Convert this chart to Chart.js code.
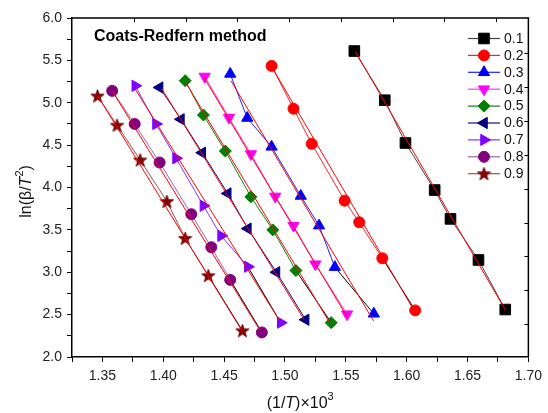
<!DOCTYPE html>
<html><head><meta charset="utf-8">
<script src="https://cdn.jsdelivr.net/npm/chart.js@4"></script>
<style>html,body{margin:0;padding:0;background:#fff}</style>
</head><body>
<canvas id="c" width="548" height="413"></canvas>
<script>
// ---- data: x = (1/T)x10^3, y = ln(beta/T^2) ----
const seriesNames = ['0.1','0.2','0.3','0.4','0.5','0.6','0.7','0.8','0.9'];
const x01 = [1.557,1.582,1.599,1.623,1.636,1.659,1.681];
const y01 = [5.61,5.03,4.525,3.97,3.63,3.145,2.56];
const x02 = [1.489,1.507,1.522,1.549,1.561,1.580,1.607];
const y02 = [5.435,4.93,4.515,3.845,3.59,3.165,2.55];
const x03 = [1.455,1.469,1.489,1.513,1.528,1.541,1.573];
const y03 = [5.34,4.82,4.48,3.90,3.55,3.06,2.51];
const x04 = [1.434,1.454,1.472,1.492,1.507,1.525,1.551];
const y04 = [5.31,4.825,4.395,3.895,3.55,3.095,2.505];
const x05 = [1.418,1.433,1.451,1.472,1.490,1.509,1.538];
const y05 = [5.26,4.855,4.43,3.89,3.50,3.02,2.405];
const x06 = [1.397,1.4145,1.432,1.453,1.4695,1.493,1.517];
const y06 = [5.18,4.805,4.41,3.93,3.515,3.00,2.44];
const x07 = [1.377,1.394,1.4105,1.433,1.4475,1.4695,1.4965];
const y07 = [5.20,4.75,4.345,3.785,3.43,3.065,2.405];
const x08 = [1.358,1.3765,1.397,1.423,1.4395,1.455,1.481];
const y08 = [5.14,4.75,4.295,3.685,3.295,2.91,2.29];
const x09 = [1.346,1.362,1.381,1.403,1.418,1.437,1.465];
const y09 = [5.08,4.735,4.325,3.835,3.40,2.96,2.31];
// linear-fit lines (end points)
const fitX01 = [1.558,1.681];  const fitY01 = [5.60,2.555];
const fitX02 = [1.4905,1.608]; const fitY02 = [5.39,2.50];
const fitX03 = [1.4556,1.5728];const fitY03 = [5.26,2.425];
const fitX04 = [1.4338,1.551]; const fitY04 = [5.29,2.475];
const fitX05 = [1.418,1.5375]; const fitY05 = [5.25,2.385];
const fitX06 = [1.3986,1.516]; const fitY06 = [5.17,2.435];
const fitX07 = [1.3774,1.4957];const fitY07 = [5.15,2.425];
const fitX08 = [1.3584,1.4792];const fitY08 = [5.13,2.32];
const fitX09 = [1.3462,1.4642];const fitY09 = [5.08,2.32];
// axis ranges / ticks
const xMin = 1.325, xMax = 1.70, xStep = 0.025, xLabelEvery = 0.05;
const yMin = 2.0, yMax = 6.0, yStep = 0.25, yLabelEvery = 0.5;

const xs = [x01,x02,x03,x04,x05,x06,x07,x08,x09];
const ys = [y01,y02,y03,y04,y05,y06,y07,y08,y09];
const fxs = [fitX01,fitX02,fitX03,fitX04,fitX05,fitX06,fitX07,fitX08,fitX09];
const fys = [fitY01,fitY02,fitY03,fitY04,fitY05,fitY06,fitY07,fitY08,fitY09];

// ---- styles ----
function makeStar(fill, stroke){
  const c = document.createElement('canvas'); c.width = 15; c.height = 15;
  const g = c.getContext('2d'); g.beginPath();
  for (let i=0;i<10;i++){
    const r = i%2===0 ? 7 : 2.9;
    const a = -Math.PI/2 + i*Math.PI/5;
    const px = 7.5 + r*Math.cos(a), py = 8 + r*Math.sin(a);
    i===0 ? g.moveTo(px,py) : g.lineTo(px,py);
  }
  g.closePath(); g.fillStyle = fill; g.fill(); g.strokeStyle = stroke; g.lineWidth = 0.8; g.stroke();
  return c;
}
const starImg = makeStar('#8b0000','#5a0000');
const markerColors = ['#000000','#ff0000','#0000ff','#ff00ff','#008000','#000080','#8000ff','#800080','#800000'];
const lineColors   = ['#444444','#ff2020','#2020ff','#ff30ff','#108010','#101080','#8a30ff','#a860a8','#a05050'];
const pStyles = ['rect','circle','triangle','triangle','rectRot','triangle','triangle','circle',starImg];
const pRot    = [0,0,0,180,0,-90,90,0,0];
const pRad    = [7.5,5.5,6.5,6.5,6,6.5,6.5,5.5,7];
const lastSegBlack = [false,true,true,false,true,false,true,true,true];

const datasets = [];
seriesNames.forEach((n,i)=>{
  const N = xs[i].length;
  datasets.push({
    label: n,
    data: xs[i].map((v,k)=>({x:v, y:ys[i][k]})),
    showLine: true, borderColor: lineColors[i], borderWidth: 1,
    pointStyle: pStyles[i], rotation: pRot[i], pointRadius: pRad[i], pointHoverRadius: pRad[i],
    pointBackgroundColor: markerColors[i], pointBorderColor: markerColors[i], pointBorderWidth: 1,
    segment: { borderColor: c => (lastSegBlack[i] && c.p1DataIndex === N-1) ? '#000000' : undefined },
    order: 1
  });
});
seriesNames.forEach((n,i)=>{
  datasets.push({
    label: 'fit ' + n,
    data: fxs[i].map((v,k)=>({x:v, y:fys[i][k]})),
    showLine: true, borderColor: '#ff0000', borderWidth: 1, pointRadius: 0, pointHoverRadius: 0,
    order: 0
  });
});

const FONT = "'Liberation Sans', Arial, sans-serif";

const deco = {
  id: 'deco',
  afterDatasetsDraw(chart){
    const ctx = chart.ctx, a = chart.chartArea;
    ctx.save();
    // title inside plot
    ctx.fillStyle = '#000'; ctx.font = 'bold 16px ' + FONT; ctx.textBaseline = 'alphabetic'; ctx.textAlign = 'left';
    ctx.fillText('Coats-Redfern method', 94, 41);
    // legend
    const lx0 = 468, lx1 = 500, ly0 = 38.5, dy = 16.9;
    ctx.font = '14px ' + FONT; ctx.textBaseline = 'middle';
    seriesNames.forEach((n,i)=>{
      const y = ly0 + dy*i;
      ctx.strokeStyle = lineColors[i]; ctx.lineWidth = 1.2;
      ctx.beginPath(); ctx.moveTo(lx0,y); ctx.lineTo(lx1,y); ctx.stroke();
      ctx.fillStyle = markerColors[i]; ctx.strokeStyle = markerColors[i]; ctx.lineWidth = 1;
      Chart.helpers.drawPoint(ctx, {pointStyle: pStyles[i], rotation: pRot[i], radius: pRad[i], borderWidth: 1}, (lx0+lx1)/2, y);
      ctx.fillStyle = '#111'; ctx.fillText(n, 504, y+0.5);
    });
    ctx.restore();
  },
  afterDraw(chart){
    const ctx = chart.ctx, a = chart.chartArea;
    ctx.save();
    ctx.strokeStyle = '#000'; ctx.lineWidth = 1.5;
    ctx.beginPath();
    ctx.moveTo(a.left, a.top); ctx.lineTo(a.right, a.top); ctx.lineTo(a.right, a.bottom);
    ctx.stroke();
    ctx.lineWidth = 1;
    // inward ticks on the top and right frame (secondary Origin axes)
    const w = a.right - a.left, h = a.bottom - a.top;
    ctx.beginPath();
    for (let k=0;k<8;k++){
      const px = Math.round(a.left + w*(0.136 + 0.1133*k)) + 0.5;
      ctx.moveTo(px, a.top); ctx.lineTo(px, a.top+4);
    }
    for (let k=0;k<9;k++){
      const py = Math.round(a.top + h*(0.104 + 0.0999*k)) + 0.5;
      ctx.moveTo(a.right, py); ctx.lineTo(a.right-4, py);
    }
    ctx.stroke();
    // axis titles with italic T
    ctx.fillStyle = '#111'; ctx.textBaseline = 'alphabetic'; ctx.textAlign = 'left';
    function drawParts(parts){
      let total = 0;
      parts.forEach(p=>{ ctx.font = p.f; p.w = ctx.measureText(p.t).width; total += p.w; });
      let x = -total/2;
      parts.forEach(p=>{ ctx.font = p.f; ctx.fillText(p.t, x, p.dy||0); x += p.w; });
    }
    const N16 = '16px ' + FONT, I16 = 'italic 16px ' + FONT, S11 = '11px ' + FONT;
    ctx.save();
    ctx.translate((a.left+a.right)/2, 408);
    drawParts([{t:'(1/',f:N16},{t:'T',f:I16},{t:')×10',f:N16},{t:'3',f:S11,dy:-8}]);
    ctx.restore();
    ctx.save();
    ctx.translate(31, (a.top+a.bottom)/2 + 4);
    ctx.rotate(-Math.PI/2);
    drawParts([{t:'ln(β/',f:N16},{t:'T',f:I16},{t:'2',f:S11,dy:-8},{t:')',f:N16}]);
    ctx.restore();
    ctx.restore();
  }
};

function isMultiple(v, m){ const r = v/m; return Math.abs(r - Math.round(r)) < 1e-6; }

new Chart(document.getElementById('c'), {
  type: 'scatter',
  data: { datasets },
  options: {
    responsive: false, animation: false, devicePixelRatio: 1,
    layout: { padding: { top: 18, right: 14, left: 0, bottom: 0 } },
    plugins: { legend: { display: false }, tooltip: { enabled: false }, title: { display: false } },
    elements: { line: { tension: 0 } },
    scales: {
      x: {
        type: 'linear', min: xMin, max: xMax,
        afterFit: s => { s.height = 56; },
        ticks: { stepSize: xStep, autoSkip: false, maxRotation: 0, padding: 6, color: '#222',
                 font: { family: FONT, size: 14 },
                 callback: v => isMultiple(v, xLabelEvery) ? v.toFixed(2) : '' },
        grid: { display: true, drawOnChartArea: false, drawTicks: true, tickLength: 5, color: '#000', lineWidth: 1 },
        border: { display: true, color: '#000', width: 1.5 }
      },
      y: {
        type: 'linear', min: yMin, max: yMax,
        afterFit: s => { s.width = 72; },
        ticks: { stepSize: yStep, autoSkip: false, padding: 5, color: '#222',
                 font: { family: FONT, size: 14 },
                 callback: v => isMultiple(v, yLabelEvery) ? v.toFixed(1) : '' },
        grid: { display: true, drawOnChartArea: false, drawTicks: true, tickLength: 5, color: '#000', lineWidth: 1 },
        border: { display: true, color: '#000', width: 1.5 }
      }
    }
  },
  plugins: [deco]
});
</script>
</body></html>
